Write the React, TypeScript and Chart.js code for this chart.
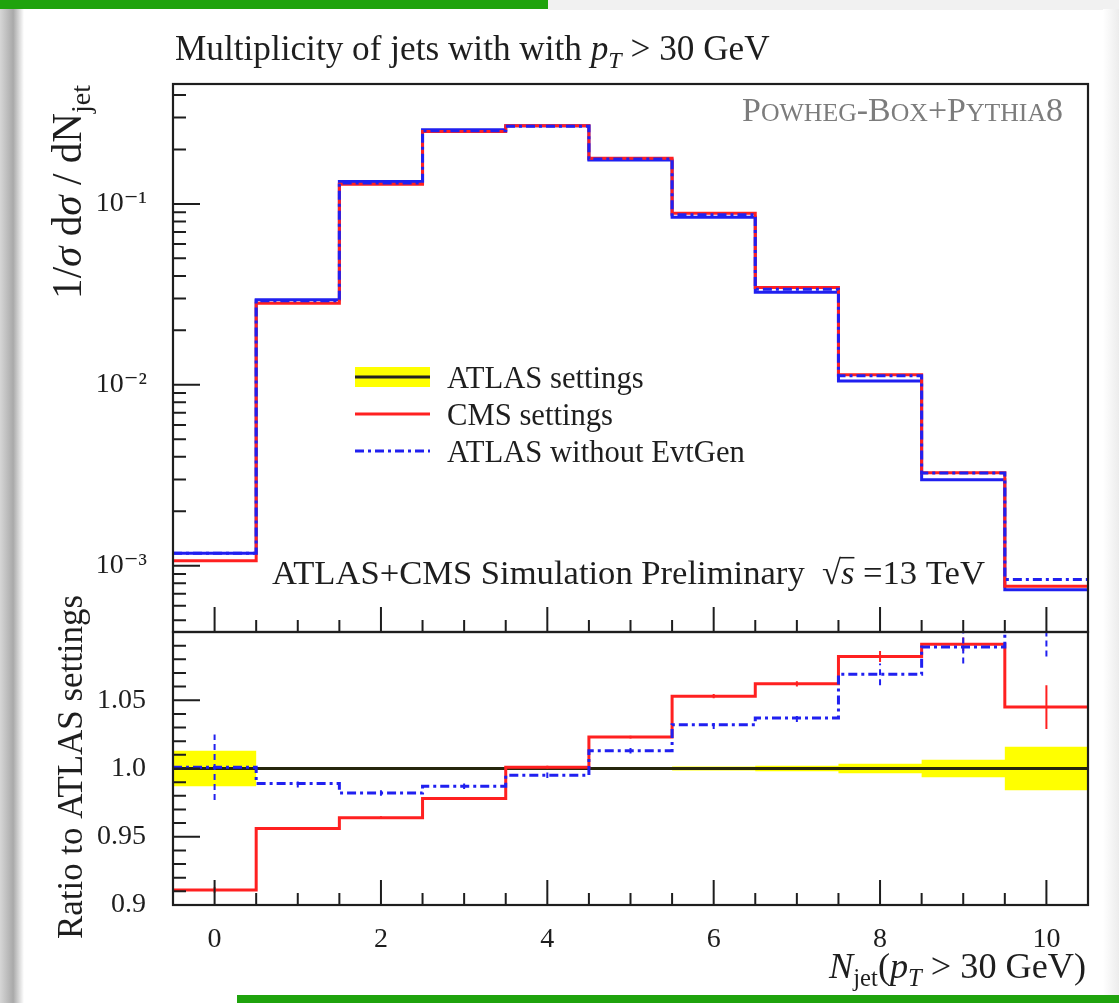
import React, { useEffect, useRef } from "react";
import { Chart, registerables } from "chart.js";

Chart.register(...registerables);

// ---- data -------------------------------------------------------------
const nJet = [0, 1, 2, 3, 4, 5, 6, 7, 8, 9, 10];
// normalised jet multiplicity, ATLAS settings (reference sample)
const atlasDist = [1.17e-3, 0.0295, 0.133, 0.257, 0.27, 0.175, 0.0844, 0.0325, 0.0105, 2.99e-3, 7.37e-4];
// ratios to the reference
const cmsRatio = [0.911, 0.956, 0.964, 0.978, 1.001, 1.023, 1.053, 1.062, 1.082, 1.091, 1.045];
const evtgenRatio = [1.001, 0.989, 0.982, 0.987, 0.995, 1.013, 1.032, 1.037, 1.069, 1.089, 1.14];
// statistical uncertainties on the ratios
const atlasBand = [0.013, 0.001, 0.0008, 0.0008, 0.0008, 0.001, 0.0015, 0.002, 0.0035, 0.0065, 0.016];
const cmsErr = [0.002, 0.001, 0.001, 0.001, 0.001, 0.001, 0.0015, 0.002, 0.004, 0.005, 0.016];
const evtgenErr = [0.024, 0.003, 0.002, 0.002, 0.002, 0.002, 0.003, 0.003, 0.008, 0.012, 0.058];
// axis ticks
const logTicks = [1e-3, 1e-2, 1e-1];
const ratioTicks = [0.9, 0.95, 1.0, 1.05];
const xTicks = [0, 2, 4, 6, 8, 10];

const cmsDist = atlasDist.map((v, i) => v * cmsRatio[i]);
const evtgenDist = atlasDist.map((v, i) => v * evtgenRatio[i]);
const unity = nJet.map(() => 1);

// ---- styling ----------------------------------------------------------
const FAMILY = '"Liberation Serif", "DejaVu Serif", serif';
const INK = "#1e1e1e";
const RED = "#ff2020";
const BLUE = "#2020f0";
const YELLOW = "#ffff00";
const DASHDOT = [9, 4, 3, 4];

type Pt = { x: number; y: number | null };

// histogram outline: one point per left bin edge plus the final right edge
const steps = (vals: number[]): Pt[] => [
  ...vals.map((v, i) => ({ x: nJet[i] - 0.5, y: v })),
  { x: nJet[nJet.length - 1] + 0.5, y: vals[vals.length - 1] },
];

// vertical error bars at bin centres, separated by gaps
const errorBars = (vals: number[], errs: number[]): Pt[] =>
  vals.flatMap((v, i) => [
    { x: nJet[i], y: v - errs[i] },
    { x: nJet[i], y: v + errs[i] },
    { x: nJet[i], y: null },
  ]);

const SUP: Record<string, string> = { "-": "\u207b", "0": "\u2070", "1": "\u00b9", "2": "\u00b2", "3": "\u00b3", "4": "\u2074" };
const logLabel = (v: number) => {
  const e = Math.round(Math.log10(v));
  return "10" + String(e).split("").map((c) => SUP[c] ?? c).join("");
};
const ratioLabel = (v: number) => (Math.abs(v - 1) < 1e-9 ? "1.0" : Math.abs(v - 0.9) < 1e-9 ? "0.9" : String(v));

// ---- rich text helpers ------------------------------------------------
type Seg = { t: string; it?: boolean; sub?: boolean; sup?: boolean; sc?: number; over?: boolean };

const segSize = (s: Seg, size: number) => (s.sub || s.sup ? size * 0.68 : size * (s.sc ?? 1));
const segFont = (s: Seg, size: number) => `${s.it ? "italic " : ""}${segSize(s, size)}px ${FAMILY}`;

function richWidth(ctx: CanvasRenderingContext2D, segs: Seg[], size: number) {
  let w = 0;
  for (const s of segs) {
    ctx.font = segFont(s, size);
    w += ctx.measureText(s.t).width;
  }
  return w;
}

const fitSize = (ctx: CanvasRenderingContext2D, segs: Seg[], width: number) => (30 * width) / richWidth(ctx, segs, 30);

function drawRich(
  ctx: CanvasRenderingContext2D,
  segs: Seg[],
  x: number,
  y: number,
  size: number,
  align: "left" | "right" | "center",
  color: string
) {
  const w = richWidth(ctx, segs, size);
  let cx = align === "left" ? x : align === "right" ? x - w : x - w / 2;
  ctx.textAlign = "left";
  ctx.textBaseline = "alphabetic";
  ctx.fillStyle = color;
  for (const s of segs) {
    ctx.font = segFont(s, size);
    const dy = s.sub ? size * 0.22 : s.sup ? -size * 0.42 : 0;
    ctx.fillText(s.t, cx, y + dy);
    const sw = ctx.measureText(s.t).width;
    if (s.over) {
      ctx.strokeStyle = color;
      ctx.lineWidth = Math.max(1, size * 0.045);
      ctx.beginPath();
      ctx.moveTo(cx - 1, y - size * 0.76);
      ctx.lineTo(cx + sw, y - size * 0.76);
      ctx.stroke();
    }
    cx += sw;
  }
}

function drawRotated(ctx: CanvasRenderingContext2D, segs: Seg[], x: number, yCentre: number, width: number) {
  const size = fitSize(ctx, segs, width);
  ctx.save();
  ctx.translate(x, yCentre);
  ctx.rotate(-Math.PI / 2);
  drawRich(ctx, segs, 0, 0, size, "center", INK);
  ctx.restore();
}

// ---- frame and inward tick marks --------------------------------------
const frameAndTicks = (kind: "log" | "ratio") => ({
  id: "frameAndTicks",
  afterDraw(chart: any) {
    const { ctx, chartArea: a, scales } = chart;
    const xs = scales.x;
    const ys = scales.y;
    ctx.save();
    ctx.strokeStyle = INK;
    ctx.lineWidth = 2;
    ctx.beginPath();
    // x ticks along the bottom edge, every half unit
    for (let k = 0; k <= 20; k++) {
      const v = k / 2;
      const px = xs.getPixelForValue(v);
      const len = k % 4 === 0 ? 25 : 12;
      ctx.moveTo(px, a.bottom);
      ctx.lineTo(px, a.bottom - len);
    }
    // y ticks along the left edge
    if (kind === "log") {
      for (let d = -4; d <= 0; d++) {
        for (let m = 1; m <= 9; m++) {
          const v = m * Math.pow(10, d);
          if (v < ys.min || v > ys.max) continue;
          const py = ys.getPixelForValue(v);
          ctx.moveTo(a.left, py);
          ctx.lineTo(a.left + (m === 1 ? 27 : 13), py);
        }
      }
    } else {
      for (let k = 90; k <= 110; k++) {
        const py = ys.getPixelForValue(k / 100);
        ctx.moveTo(a.left, py);
        ctx.lineTo(a.left + (k % 5 === 0 ? 27 : 13), py);
      }
    }
    ctx.stroke();
    ctx.lineWidth = 2.2;
    ctx.strokeRect(a.left, a.top, a.right - a.left, a.bottom - a.top);
    ctx.restore();
  },
});

// ---- annotations on the upper panel ----------------------------------
const upperText = {
  id: "upperText",
  afterDraw(chart: any) {
    const { ctx, chartArea: a } = chart;
    ctx.save();

    const title: Seg[] = [{ t: "Multiplicity of jets with with " }, { t: "p", it: true }, { t: "T", it: true, sub: true }, { t: " > 30 GeV" }];
    drawRich(ctx, title, a.left + 2, 60, fitSize(ctx, title, 595), "left", INK);

    const yTitle: Seg[] = [{ t: "1/" }, { t: "\u03c3", it: true }, { t: " d" }, { t: "\u03c3", it: true }, { t: " / dN" }, { t: "jet", sub: true }];
    drawRotated(ctx, yTitle, 81, 192, 214);

    const gen: Seg[] = [
      { t: "P" }, { t: "OWHEG", sc: 0.76 }, { t: "-B" }, { t: "OX", sc: 0.76 }, { t: "+P" }, { t: "YTHIA", sc: 0.76 }, { t: "8" },
    ];
    drawRich(ctx, gen, 1063, 121, fitSize(ctx, gen, 321), "right", "#7c7c7c");

    const sim: Seg[] = [
      { t: "ATLAS+CMS Simulation Preliminary  " }, { t: "\u221a" }, { t: "s", it: true, over: true }, { t: " =13 TeV" },
    ];
    drawRich(ctx, sim, 272, 584, fitSize(ctx, sim, 713), "left", INK);

    // legend
    const entries: Seg[][] = [[{ t: "ATLAS settings" }], [{ t: "CMS settings" }], [{ t: "ATLAS without EvtGen" }]];
    const lsize = fitSize(ctx, entries[2], 298);
    const baselines = [388, 425, 462];
    entries.forEach((e, i) => drawRich(ctx, e, 447, baselines[i], lsize, "left", INK));
    const x0 = 355;
    const x1 = 430;
    ctx.fillStyle = YELLOW;
    ctx.fillRect(x0, 367, x1 - x0, 20);
    ctx.lineWidth = 3;
    ctx.strokeStyle = "#222";
    ctx.beginPath();
    ctx.moveTo(x0, 377);
    ctx.lineTo(x1, 377);
    ctx.stroke();
    ctx.strokeStyle = RED;
    ctx.beginPath();
    ctx.moveTo(x0, 414);
    ctx.lineTo(x1, 414);
    ctx.stroke();
    ctx.strokeStyle = BLUE;
    ctx.setLineDash(DASHDOT);
    ctx.beginPath();
    ctx.moveTo(x0, 451);
    ctx.lineTo(x1, 451);
    ctx.stroke();
    ctx.setLineDash([]);
    ctx.restore();
  },
};

// ---- annotations on the ratio panel ----------------------------------
const LOWER_TOP = 540;
const lowerText = {
  id: "lowerText",
  afterDraw(chart: any) {
    const { ctx, chartArea: a } = chart;
    ctx.save();
    const yTitle: Seg[] = [{ t: "Ratio to ATLAS settings" }];
    drawRotated(ctx, yTitle, 82, 767 - LOWER_TOP, 344);
    const xTitle: Seg[] = [
      { t: "N", it: true }, { t: "jet", sub: true }, { t: "(" }, { t: "p", it: true }, { t: "T", it: true, sub: true }, { t: " > 30 GeV)" },
    ];
    drawRich(ctx, xTitle, a.right - 2, 978 - LOWER_TOP, fitSize(ctx, xTitle, 257), "right", INK);
    ctx.restore();
  },
};

const tickFont = { family: FAMILY, size: 28 };

function upperConfig(): any {
  const line = { pointRadius: 0, stepped: "before", fill: false, borderWidth: 3 };
  return {
    type: "line",
    data: {
      datasets: [
        { ...line, label: "ATLAS settings", data: steps(atlasDist), borderColor: BLUE, order: 3 },
        { ...line, label: "CMS settings", data: steps(cmsDist), borderColor: RED, order: 2 },
        { ...line, label: "ATLAS without EvtGen", data: steps(evtgenDist), borderColor: BLUE, borderDash: DASHDOT, order: 1 },
      ],
    },
    options: {
      animation: false,
      responsive: false,
      maintainAspectRatio: false,
      layout: { padding: { left: 0, top: 84, right: 31, bottom: 58 } },
      plugins: { legend: { display: false }, tooltip: { enabled: false }, title: { display: false } },
      scales: {
        x: { type: "linear", min: -0.5, max: 10.5, display: false },
        y: {
          type: "logarithmic",
          min: 4.3e-4,
          max: 0.46,
          grid: { display: false },
          border: { display: false },
          afterFit: (s: any) => {
            s.width = 173;
          },
          afterBuildTicks: (s: any) => {
            s.ticks = logTicks.map((v) => ({ value: v }));
          },
          ticks: { autoSkip: false, padding: 18, color: INK, font: tickFont, callback: (v: number) => logLabel(v) },
        },
      },
    },
    plugins: [frameAndTicks("log"), upperText],
  };
}

function lowerConfig(): any {
  const line = { pointRadius: 0, stepped: "before", borderWidth: 3 };
  const bars = { pointRadius: 0, borderWidth: 2, spanGaps: false, fill: false };
  return {
    type: "line",
    data: {
      datasets: [
        { ...line, label: "band-up", data: steps(unity.map((u, i) => u + atlasBand[i])), borderWidth: 0, borderColor: "rgba(0,0,0,0)", fill: false, order: 9 },
        { ...line, label: "band-down", data: steps(unity.map((u, i) => u - atlasBand[i])), borderWidth: 0, borderColor: "rgba(0,0,0,0)", backgroundColor: YELLOW, fill: 0, order: 8 },
        { ...line, label: "ATLAS settings", data: steps(unity), borderColor: "#26260c", fill: false, order: 7 },
        { ...line, label: "CMS settings", data: steps(cmsRatio), borderColor: RED, fill: false, order: 5 },
        { ...bars, label: "CMS errors", data: errorBars(cmsRatio, cmsErr), borderColor: RED, order: 4 },
        { ...line, label: "ATLAS without EvtGen", data: steps(evtgenRatio), borderColor: BLUE, borderDash: DASHDOT, fill: false, order: 3 },
        { ...bars, label: "EvtGen errors", data: errorBars(evtgenRatio, evtgenErr), borderColor: BLUE, borderDash: [6, 4], order: 2 },
      ],
    },
    options: {
      animation: false,
      responsive: false,
      maintainAspectRatio: false,
      layout: { padding: { left: 0, top: 632 - LOWER_TOP, right: 31, bottom: 0 } },
      plugins: { legend: { display: false }, tooltip: { enabled: false }, title: { display: false }, filler: { propagate: false } },
      scales: {
        x: {
          type: "linear",
          min: -0.5,
          max: 10.5,
          grid: { display: false },
          border: { display: false },
          afterFit: (s: any) => {
            s.height = 98;
          },
          afterBuildTicks: (s: any) => {
            s.ticks = xTicks.map((v) => ({ value: v }));
          },
          ticks: { autoSkip: false, maxRotation: 0, padding: 10, color: INK, font: tickFont, callback: (v: number) => String(v) },
        },
        y: {
          type: "linear",
          min: 0.9,
          max: 1.1,
          grid: { display: false },
          border: { display: false },
          afterFit: (s: any) => {
            s.width = 173;
          },
          afterBuildTicks: (s: any) => {
            s.ticks = ratioTicks.map((v) => ({ value: v }));
          },
          ticks: { autoSkip: false, padding: 19, color: INK, font: tickFont, callback: (v: number) => ratioLabel(v) },
        },
      },
    },
    plugins: [frameAndTicks("ratio"), lowerText],
  };
}

export default function App() {
  const upperRef = useRef<HTMLCanvasElement>(null);
  const lowerRef = useRef<HTMLCanvasElement>(null);

  useEffect(() => {
    const upper = new Chart(upperRef.current as HTMLCanvasElement, upperConfig());
    const lower = new Chart(lowerRef.current as HTMLCanvasElement, lowerConfig());
    return () => {
      upper.destroy();
      lower.destroy();
    };
  }, []);

  return (
    <div style={{ position: "absolute", left: 0, top: 0, width: 1119, height: 1003, background: "#fff", overflow: "hidden" }}>
      <div style={{ position: "absolute", left: 0, top: 0, width: 548, height: 9, background: "#1fa30d" }} />
      <div style={{ position: "absolute", left: 548, top: 0, width: 571, height: 10, background: "#f1f1f1" }} />
      <div
        style={{
          position: "absolute",
          left: 0,
          top: 9,
          width: 24,
          height: 994,
          background: "linear-gradient(to right, #d6d6d6 0%, #a9a9a9 55%, #ffffff 100%)",
        }}
      />
      <div
        style={{
          position: "absolute",
          right: 0,
          top: 9,
          width: 16,
          height: 994,
          background: "linear-gradient(to right, #ffffff 0%, #ececec 100%)",
        }}
      />
      <div style={{ position: "absolute", left: 237, top: 995, width: 882, height: 8, background: "#1fa30d" }} />
      <canvas ref={upperRef} width={1119} height={690} style={{ position: "absolute", left: 0, top: 0, width: 1119, height: 690 }} />
      <canvas
        ref={lowerRef}
        width={1119}
        height={1003 - LOWER_TOP}
        style={{ position: "absolute", left: 0, top: LOWER_TOP, width: 1119, height: 1003 - LOWER_TOP }}
      />
    </div>
  );
}
